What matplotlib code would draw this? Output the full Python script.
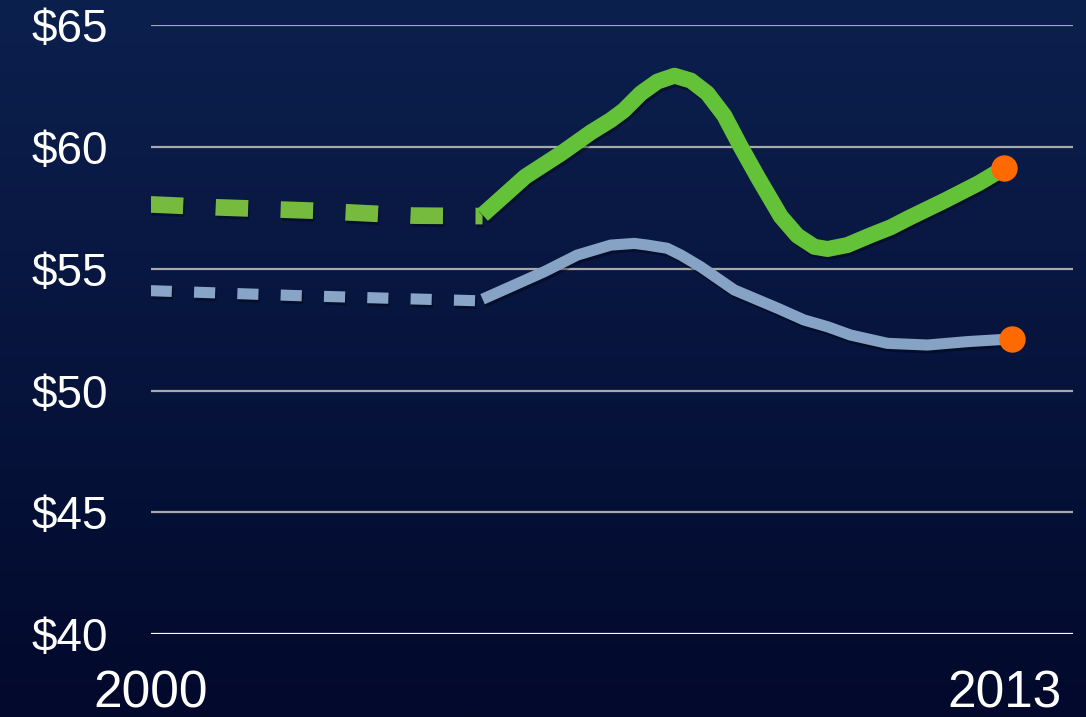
import matplotlib.pyplot as plt
import matplotlib.patheffects as pe
import numpy as np

# green series (upper): projected part dashed, then actual solid
green_dash_years = [2000.0, 2001.0, 2002.5, 2004.0, 2005.05]
green_dash_values = [57.64, 57.52, 57.38, 57.18, 57.16]
green_years = [2005.05, 2005.7, 2006.25, 2006.7, 2007.0, 2007.2, 2007.46, 2007.71,
               2007.97, 2008.22, 2008.47, 2008.73, 2008.98, 2009.25, 2009.59, 2009.84,
               2010.1, 2010.3, 2010.6, 2010.96, 2011.26, 2011.55, 2012.1, 2012.6, 2012.98]
green_values = [57.21, 58.78, 59.74, 60.6, 61.1, 61.5, 62.2, 62.68,
                62.92, 62.72, 62.2, 61.28, 60.0, 58.7, 57.14, 56.36,
                55.9, 55.81, 55.97, 56.38, 56.7, 57.1, 57.82, 58.51, 59.12]

# blue series (lower)
blue_dash_years = [2000.0, 2002.2, 2005.05]
blue_dash_values = [54.1, 53.9, 53.68]
blue_years = [2005.05, 2005.99, 2006.49, 2007.0, 2007.36, 2007.56, 2007.86, 2008.07,
              2008.37, 2008.88, 2009.54, 2009.94, 2010.3, 2010.65, 2011.21, 2011.82,
              2012.43, 2013.1]
blue_values = [53.75, 54.88, 55.56, 55.97, 56.04, 55.97, 55.84, 55.56,
               55.08, 54.13, 53.38, 52.9, 52.62, 52.28, 51.94, 51.87,
               52.01, 52.12]

y_ticks = [40, 45, 50, 55, 60, 65]
y_labels = ["$40", "$45", "$50", "$55", "$60", "$65"]
x_ticks = [2000, 2013]
x_labels = ["2000", "2013"]

plt.rcParams["font.family"] = ["Liberation Sans", "DejaVu Sans"]

fig = plt.figure(figsize=(10.86, 7.17), dpi=100)

# navy gradient backdrop
bg = fig.add_axes([0, 0, 1, 1], zorder=-10)
grad = np.linspace(0, 1, 256)[:, None]
top = np.array([0x0c, 0x20, 0x4e]) / 255
bottom = np.array([0x02, 0x09, 0x2c]) / 255
img = top[None, None, :] * (1 - grad[:, :, None]) + bottom[None, None, :] * grad[:, :, None]
bg.imshow(img, aspect="auto", extent=[0, 1, 0, 1])
bg.set_axis_off()

ax = fig.add_axes([0.1388, 0.1153, 0.9877 - 0.1388, 0.9651 - 0.1153])
ax.set_facecolor("none")
ax.set_xlim(2000, 2014.03)
ax.set_ylim(40, 65)

for v in y_ticks:
    ax.axhline(v, color="white" if v == 40 else "#a9a9a9", lw=1.6, zorder=1)

shadow = [pe.SimpleLineShadow(offset=(1, -2), shadow_color="black", alpha=0.35), pe.Normal()]

ax.plot(green_dash_years, green_dash_values, color="#76bb3d", lw=12,
        dashes=(1.95, 1.95), dash_capstyle="butt",
        path_effects=shadow, zorder=3)
ax.plot(green_years, green_values, color="#63c238", lw=11.5,
        solid_capstyle="butt", solid_joinstyle="round", path_effects=shadow, zorder=3)

ax.plot(blue_dash_years, blue_dash_values, color="#88a5c8", lw=8,
        dashes=(1.9, 2.0), dash_capstyle="butt", path_effects=shadow, zorder=2)
ax.plot(blue_years, blue_values, color="#86a3c6", lw=8,
        solid_capstyle="butt", solid_joinstyle="round", path_effects=shadow, zorder=2)

ax.plot([green_years[-1]], [green_values[-1]], "o", color="#ff6a00", ms=19, mec="none", zorder=5)
ax.plot([blue_years[-1]], [blue_values[-1]], "o", color="#ff6a00", ms=19, mec="none", zorder=5)

ax.set_yticks(y_ticks, y_labels)
ax.set_xticks(x_ticks, x_labels)
ax.tick_params(axis="y", length=0, pad=31, labelsize=33, labelcolor="white")
ax.tick_params(axis="x", length=0, pad=25, labelsize=37, labelcolor="white")
for s in ax.spines.values():
    s.set_visible(False)

fig.savefig("out.png", dpi=100)
